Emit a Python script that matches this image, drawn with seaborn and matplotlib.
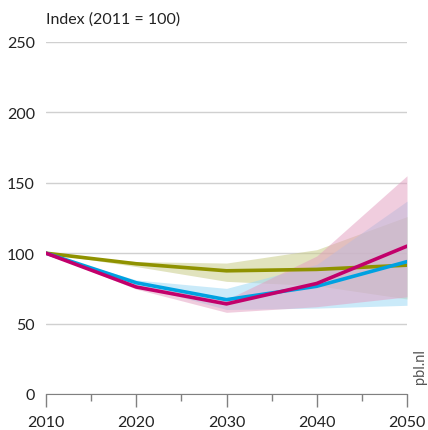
import matplotlib
matplotlib.use("Agg")
import matplotlib.pyplot as plt
import numpy as np
import pandas as pd
import seaborn as sns

# values
years = [2010, 2020, 2030, 2040, 2050]

olive = [100, 92.5, 87.5, 88.5, 91.5]
olive_lo = [100, 90.5, 80, 77, 67.5]
olive_hi = [100, 94, 93, 102.5, 126]

blue = [100, 79, 67, 76.5, 94]
blue_lo = [100, 77.5, 60, 61, 63]
blue_hi = [100, 81, 75, 92, 137]

magenta = [100, 76, 64, 78.5, 105]
magenta_lo = [100, 74.5, 58, 62, 69]
magenta_hi = [100, 77.5, 67, 98, 155]

c_olive = "#8f9200"
c_blue = "#00a1e1"
c_magenta = "#c2006b"

df = pd.DataFrame({
    "year": years * 3,
    "value": olive + blue + magenta,
    "series": ["olive"] * 5 + ["blue"] * 5 + ["magenta"] * 5,
})

sns.set_style("white")
plt.rcParams["font.family"] = ["Lato", "DejaVu Sans"]

fig = plt.figure(figsize=(4.28, 4.31), dpi=100)
ax = fig.add_axes([46 / 428, 36 / 431, 361 / 428, 352 / 431])

ax.fill_between(years, olive_lo, olive_hi, color="#c9cc8a", alpha=0.55, lw=0)
ax.fill_between(years, blue_lo, blue_hi, color="#9fd9f5", alpha=0.55, lw=0)
ax.fill_between(years, magenta_lo, magenta_hi, color="#e39cbf", alpha=0.5, lw=0)

sns.lineplot(data=df, x="year", y="value", hue="series",
             palette={"olive": c_olive, "blue": c_blue, "magenta": c_magenta},
             linewidth=2.6, legend=False, ax=ax)

ax.set_xlim(2010, 2050)
ax.set_ylim(0, 250)
ax.set_yticks([0, 50, 100, 150, 200, 250])
ax.set_xticks([2010, 2020, 2030, 2040, 2050])
ax.set_xticks([2015, 2025, 2035, 2045], minor=True)
ax.yaxis.grid(True, color="#d0d0d0", lw=1)
ax.set_axisbelow(True)
for s in ["top", "right", "left"]:
    ax.spines[s].set_visible(False)
ax.spines["bottom"].set_color("#808080")
ax.tick_params(axis="y", length=0, pad=8, labelsize=11.5, colors="#222222")
ax.tick_params(axis="x", which="major", length=9, width=1, color="#808080",
               pad=6, labelsize=11.5, labelcolor="#222222", direction="out", bottom=True)
ax.tick_params(axis="x", which="minor", length=5, width=1, color="#808080",
               direction="out", bottom=True)
ax.set_xlabel("")
ax.set_ylabel("")

fig.text(46 / 428, 1 - 20 / 431, "Index (2011 = 100)", fontsize=11.5,
         color="#222222", va="center", ha="left")
fig.text(420 / 428, 1 - 367 / 431, "pbl.nl", rotation=90, fontsize=10.5,
         color="#555555", va="center", ha="center")

fig.savefig("out.png", dpi=100)
